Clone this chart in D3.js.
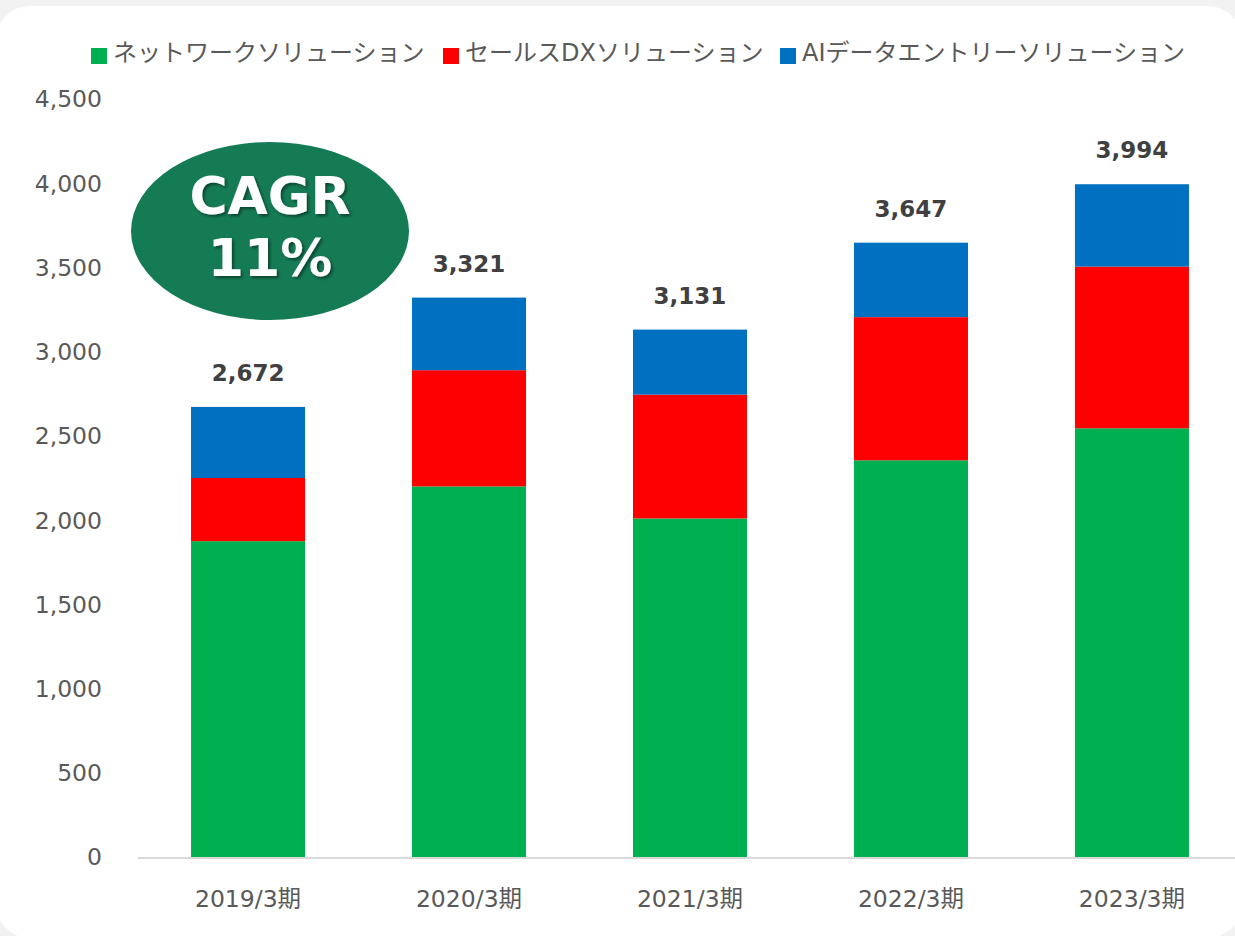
<!DOCTYPE html>
<html>
<head>
<meta charset="utf-8">
<script src="https://cdn.jsdelivr.net/npm/d3@7"></script>
<style>
  body { margin: 0; background: #f2f2f2; }
  svg { display: block; }
</style>
</head>
<body>
<svg></svg>
<script>
const years = ["2019/3期", "2020/3期", "2021/3期", "2022/3期", "2023/3期"];
const seriesNames = ["ネットワークソリューション", "セールスDXソリューション", "AIデータエントリーソリューション"];
const network = [1875, 2200, 2010, 2355, 2545];
const salesDx = [375, 690, 735, 850, 960];
const aiEntry = [422, 431, 386, 442, 489];
const yTicks = [0, 500, 1000, 1500, 2000, 2500, 3000, 3500, 4000, 4500];
const colours = ["#00b050", "#ff0000", "#0070c0"];

const W = 1235, H = 936;
const font = "Verdana, 'DejaVu Sans', 'Noto Sans CJK JP', sans-serif";

const svg = d3.select("svg").attr("width", W).attr("height", H);

// white panel with rounded corners
svg.append("rect")
  .attr("x", -4).attr("y", 6)
  .attr("width", 1246).attr("height", 932)
  .attr("rx", 34)
  .attr("fill", "#fff");

const rows = years.map((y, i) => ({
  year: y,
  0: network[i], 1: salesDx[i], 2: aiEntry[i],
  total: network[i] + salesDx[i] + aiEntry[i]
}));

const stack = d3.stack().keys([0, 1, 2])(rows);

const x = d3.scaleBand()
  .domain(years)
  .range([138, 1242])
  .paddingInner(0.484)
  .paddingOuter(0.24);

const y = d3.scaleLinear().domain([0, 4500]).range([857, 99]);

// y tick labels
svg.append("g").selectAll("text")
  .data(yTicks)
  .enter().append("text")
  .attr("x", 102)
  .attr("y", d => y(d))
  .attr("dy", "0.36em")
  .attr("text-anchor", "end")
  .attr("font-family", font)
  .attr("font-size", 23.5)
  .attr("fill", "#595959")
  .text(d => d3.format(",")(d));

// bars
svg.append("g").selectAll("g")
  .data(stack)
  .enter().append("g")
  .attr("fill", (d, i) => colours[i])
  .selectAll("rect")
  .data(d => d)
  .enter().append("rect")
  .attr("x", d => x(d.data.year))
  .attr("width", x.bandwidth())
  .attr("y", d => y(d[1]))
  .attr("height", d => y(d[0]) - y(d[1]));

// baseline
svg.append("line")
  .attr("x1", 138).attr("x2", 1235)
  .attr("y1", y(0) + 1).attr("y2", y(0) + 1)
  .attr("stroke", "#d9d9d9")
  .attr("stroke-width", 2);

// x labels
svg.append("g").selectAll("text")
  .data(years)
  .enter().append("text")
  .attr("x", d => x(d) + x.bandwidth() / 2)
  .attr("y", 907)
  .attr("text-anchor", "middle")
  .attr("font-family", font)
  .attr("font-size", 23.5)
  .attr("fill", "#595959")
  .text(d => d);

// totals
svg.append("g").selectAll("text")
  .data(rows)
  .enter().append("text")
  .attr("x", d => x(d.year) + x.bandwidth() / 2)
  .attr("y", d => y(d.total) - 26)
  .attr("text-anchor", "middle")
  .attr("font-family", font)
  .attr("font-size", 23)
  .attr("font-weight", "bold")
  .attr("fill", "#404040")
  .text(d => d3.format(",")(d.total));

// legend
const legendX = [91, 443, 780];
const legend = svg.append("g").selectAll("g")
  .data(seriesNames)
  .enter().append("g")
  .attr("transform", (d, i) => `translate(${legendX[i]},0)`);
legend.append("rect")
  .attr("x", 0).attr("y", 48)
  .attr("width", 16).attr("height", 16)
  .attr("fill", (d, i) => colours[i]);
legend.append("text")
  .attr("x", 22).attr("y", 52)
  .attr("dy", "0.36em")
  .attr("font-family", font)
  .attr("font-size", 24)
  .attr("fill", "#595959")
  .text(d => d);

// CAGR badge
const defs = svg.append("defs");
const f = defs.append("filter").attr("id", "shadow").attr("x", "-20%").attr("y", "-20%").attr("width", "140%").attr("height", "140%");
f.append("feDropShadow").attr("dx", 2).attr("dy", 2).attr("stdDeviation", 1.5).attr("flood-color", "#000").attr("flood-opacity", 0.45);

svg.append("ellipse")
  .attr("cx", 270).attr("cy", 231)
  .attr("rx", 139).attr("ry", 89)
  .attr("fill", "#157b55");

svg.append("g").attr("filter", "url(#shadow)")
  .selectAll("text")
  .data(["CAGR", "11%"])
  .enter().append("text")
  .attr("x", 270)
  .attr("y", (d, i) => 214 + i * 62)
  .attr("text-anchor", "middle")
  .attr("font-family", font)
  .attr("font-size", 52)
  .attr("font-weight", "bold")
  .attr("fill", "#fff")
  .text(d => d);
</script>
</body>
</html>
